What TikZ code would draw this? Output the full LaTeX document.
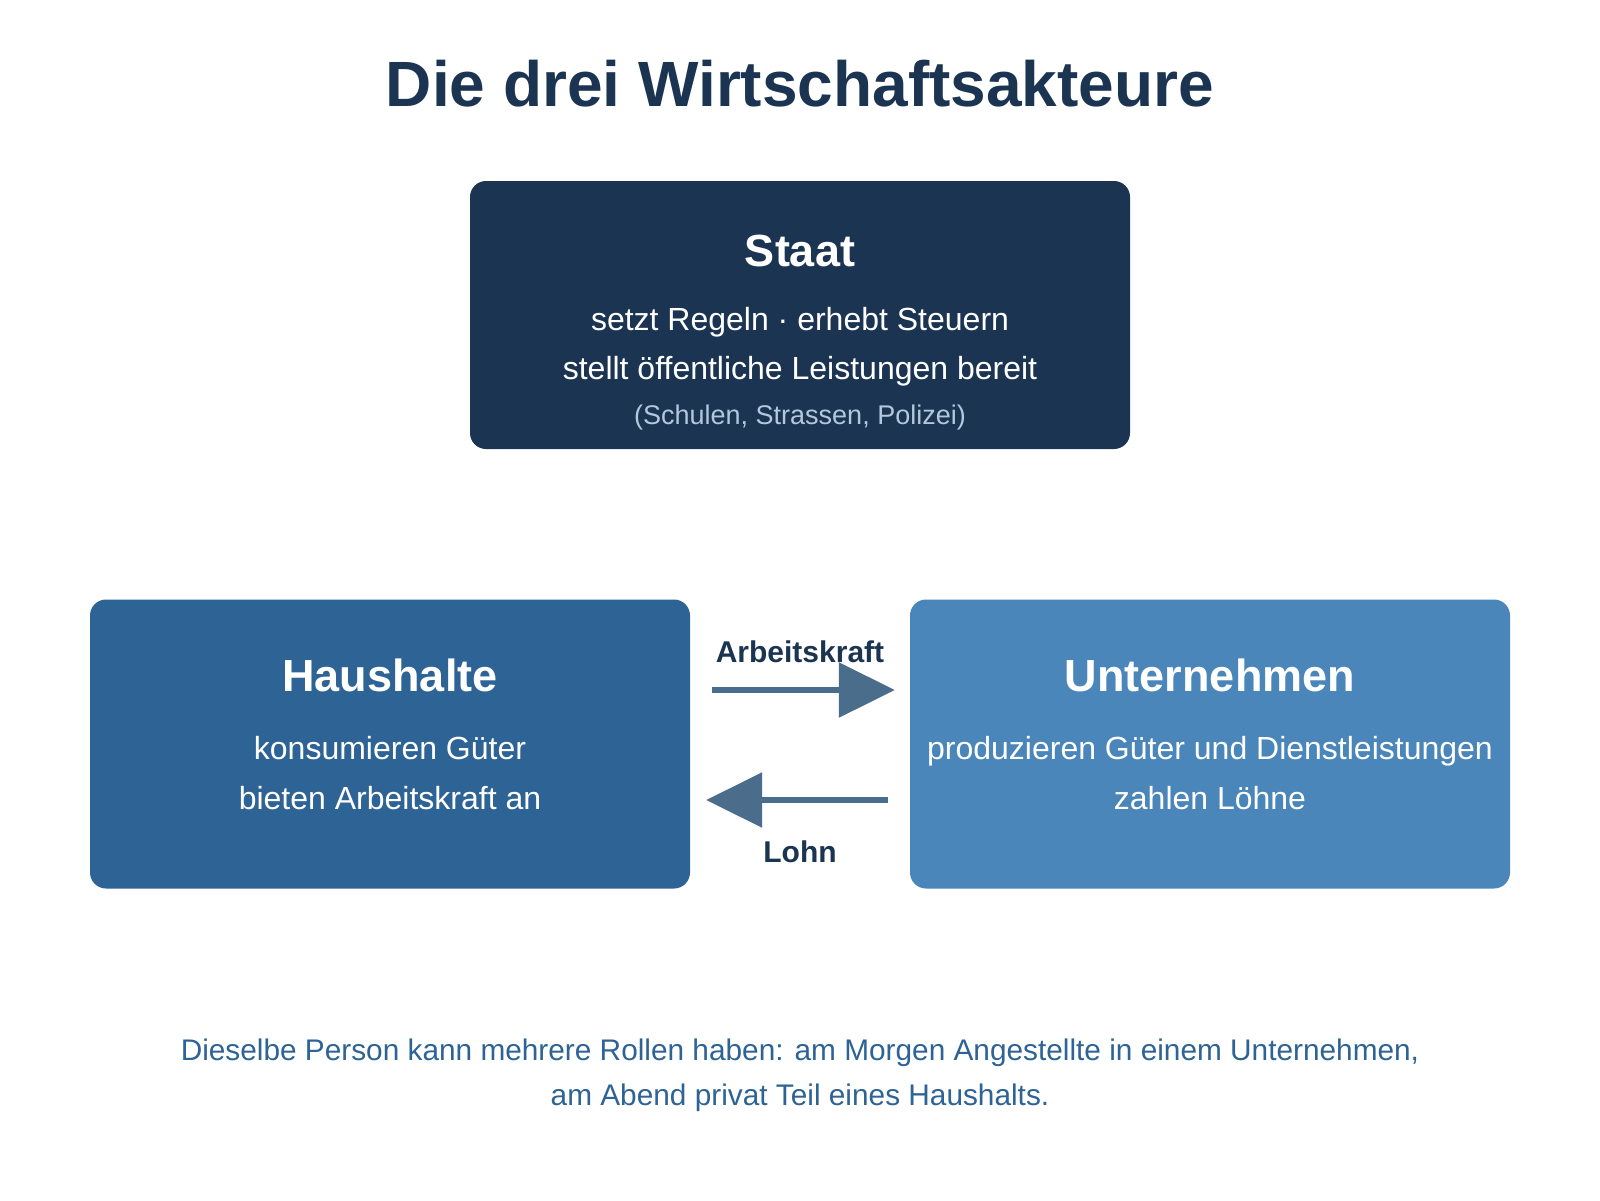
\documentclass[tikz,border=0pt]{standalone}
\usepackage{fontspec}
\setmainfont{Liberation Sans}
\usetikzlibrary{arrows.meta}
\definecolor{navy}{HTML}{1B3452}
\definecolor{midblue}{HTML}{2E6395}
\definecolor{lightblue}{HTML}{4A86B9}
\definecolor{arrowcol}{HTML}{4A6D8C}
\definecolor{subtext}{HTML}{B3C7DD}
\tikzset{
  box/.style={rounded corners=16pt, draw=none, inner sep=0pt},
  title/.style={anchor=base, text=navy, font=\fontsize{64}{70}\selectfont\bfseries, inner sep=0pt},
  heading/.style={anchor=base, text=white, font=\fontsize{45}{50}\selectfont\bfseries, inner sep=0pt},
  bodytext/.style={anchor=base, text=white, font=\fontsize{32}{38}\selectfont, inner sep=0pt},
  smalltext/.style={anchor=base, text=subtext, font=\fontsize{27}{32}\selectfont, inner sep=0pt},
  flowlabel/.style={anchor=base, text=navy, font=\fontsize{30}{34}\selectfont\bfseries, inner sep=0pt},
  footer/.style={anchor=base, text=midblue, font=\fontsize{29.8}{34}\selectfont, inner sep=0pt},
  flow/.style={draw=arrowcol, line width=6pt, -{Triangle[length=56pt,width=54pt]}, arrowcol},
}
\begin{document}
\begin{tikzpicture}[x=1pt,y=-1pt]
\useasboundingbox (0,0) rectangle (1600,1200);
\fill[white] (0,0) rectangle (1600,1200);

\node[title] (t) at (800,106) {Die drei Wirtschaftsakteure};

\node[box, fill=navy, minimum width=660pt, minimum height=268pt] (staat) at (800,315) {};
\node[heading] (staath) at (800,266) {Staat};
\node[bodytext] (staat1) at (800,330) {setzt Regeln · erhebt Steuern};
\node[bodytext] (staat2) at (800,379) {stellt öffentliche Leistungen bereit};
\node[smalltext] (staat3) at (800,424) {(Schulen, Strassen, Polizei)};

\node[box, fill=midblue, minimum width=600pt, minimum height=289pt] (haus) at (390,744) {};
\node[heading] (haush) at (390,691) {Haushalte};
\node[bodytext] (haus1) at (390,759) {konsumieren Güter};
\node[bodytext] (haus2) at (390,809) {bieten Arbeitskraft an};

\node[box, fill=lightblue, minimum width=600pt, minimum height=289pt] (unt) at (1210,744) {};
\node[heading] (unth) at (1210,691) {Unternehmen};
\node[bodytext] (unt1) at (1210,759) {produzieren Güter und Dienstleistungen};
\node[bodytext] (unt2) at (1210,809) {zahlen Löhne};

\coordinate (a1s) at ([xshift=22pt]haus.east |- 0,690);
\coordinate (a1e) at ([xshift=-15pt]unt.west |- 0,690);
\coordinate (a2s) at ([xshift=-22pt]unt.west |- 0,800);
\coordinate (a2e) at ([xshift=16pt]haus.east |- 0,800);
\draw[flow] (a1s) -- (a1e);
\draw[flow] (a2s) -- (a2e);
\node[flowlabel] (l1) at (800,662) {Arbeitskraft};
\node[flowlabel] (l2) at (800,862) {Lohn};

\node[footer] (f1) at (800,1060) {Dieselbe Person kann mehrere Rollen haben: am Morgen Angestellte in einem Unternehmen,};
\node[footer] (f2) at (800,1105) {am Abend privat Teil eines Haushalts.};
\end{tikzpicture}
\end{document}
